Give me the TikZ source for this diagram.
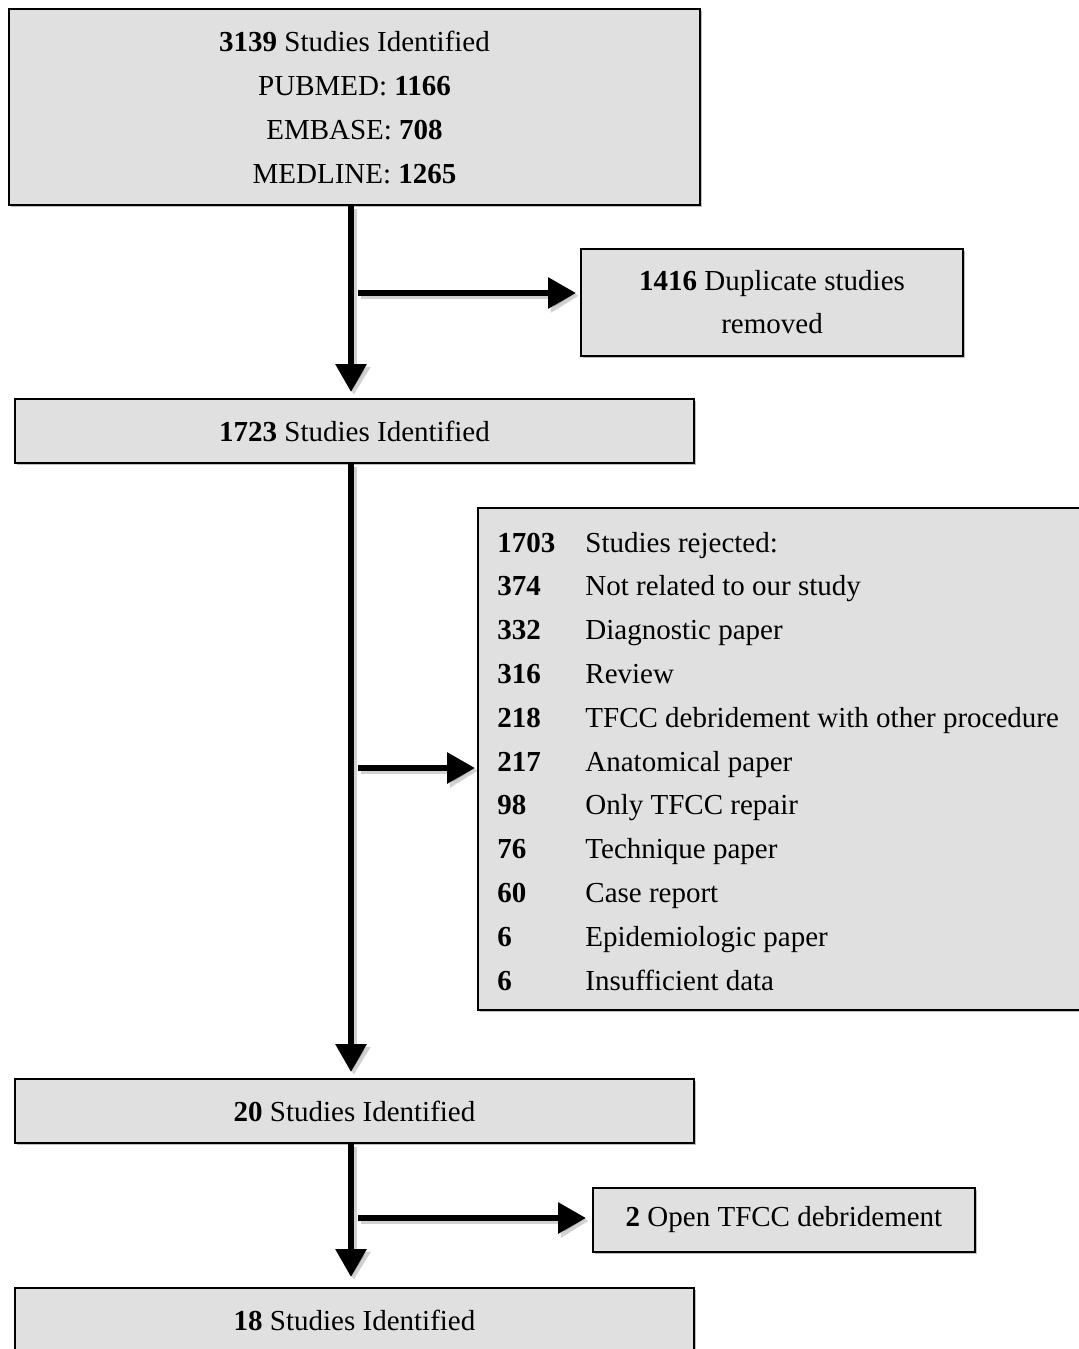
\documentclass[tikz,border=0pt]{standalone}
\usepackage{fontspec}
\setmainfont{Liberation Serif}
\usetikzlibrary{arrows.meta,calc,shadows}
\definecolor{boxgray}{HTML}{E0E0E0}
\begin{document}
\begin{tikzpicture}[x=0.5pt,y=-0.5pt,
  flowbox/.style={draw=black, line width=1pt, fill=boxgray, inner sep=0pt, align=center,
    font=\fontsize{14.5}{22}\selectfont,
    drop shadow={shadow xshift=1.2pt, shadow yshift=-1.2pt, opacity=0.25, fill=black}},
  arr/.style={line width=3pt, -{Triangle[length=14pt,width=15pt]},
    preaction={draw=black, opacity=0.18, line width=3.6pt, -{Triangle[length=14pt,width=16pt]},
      transform canvas={shift={(1.4pt,-1.4pt)}}}}
]
\useasboundingbox (0,0) rectangle (1079,1349);
\clip (0,0) rectangle (1079,1349);

\node[flowbox, minimum width=345.5pt, minimum height=98pt] (b1) at (354.5,107)
  {\textbf{3139} Studies Identified\\ PUBMED: \textbf{1166}\\ EMBASE: \textbf{708}\\ MEDLINE: \textbf{1265}};
\node[flowbox, minimum width=191pt, minimum height=53.5pt, font=\fontsize{14.5}{21.5}\selectfont] (b2) at (772,302.5)
  {\textbf{1416} Duplicate studies\\ removed};
\node[flowbox, minimum width=339.5pt, minimum height=32pt] (b3) at (354.5,431)
  {\textbf{1723} Studies Identified};
\node[flowbox, minimum width=306pt, minimum height=251pt] (b4) at (784,759) {};
\node[anchor=base west, inner sep=0pt, font=\fontsize{14.5}{21.9}\selectfont] (b4t) at (497,552)
  {\renewcommand{\arraystretch}{1}\begin{tabular}[t]{@{}p{44pt}@{}l@{}}
  \textbf{1703} & Studies rejected:\\
  \textbf{374} & Not related to our study\\
  \textbf{332} & Diagnostic paper\\
  \textbf{316} & Review\\
  \textbf{218} & TFCC debridement with other procedure\\
  \textbf{217} & Anatomical paper\\
  \textbf{98} & Only TFCC repair\\
  \textbf{76} & Technique paper\\
  \textbf{60} & Case report\\
  \textbf{6} & Epidemiologic paper\\
  \textbf{6} & Insufficient data
  \end{tabular}};
\node[flowbox, minimum width=339.5pt, minimum height=32pt] (b5) at (354.5,1111)
  {\textbf{20} Studies Identified};
\node[flowbox, minimum width=191pt, minimum height=32pt] (b6) at (784,1220)
  {\raisebox{-2pt}{\textbf{2} Open TFCC debridement}};
\node[flowbox, minimum width=339.5pt, minimum height=32pt] (b7) at (354.5,1320)
  {\textbf{18} Studies Identified};

\draw[arr, shorten >=3pt] ($(b1.south)+(-3.5,0)$) -- ($(b3.north)+(-3.5,0)$);
\draw[arr, shorten >=3pt] ($(b3.south)+(-3.5,0)$) -- ($(b5.north)+(-3.5,0)$);
\draw[arr, shorten >=5pt] ($(b5.south)+(-3.5,0)$) -- ($(b7.north)+(-3.5,0)$);

\coordinate (c1) at (358,293);
\coordinate (c2) at (358,768);
\coordinate (c3) at (358,1218);
\draw[arr, shorten >=2pt] (c1) -- (c1 -| b2.west);
\draw[arr, shorten >=1pt] (c2) -- (c2 -| b4.west);
\draw[arr, shorten >=3pt] (c3) -- (c3 -| b6.west);
\end{tikzpicture}
\end{document}
